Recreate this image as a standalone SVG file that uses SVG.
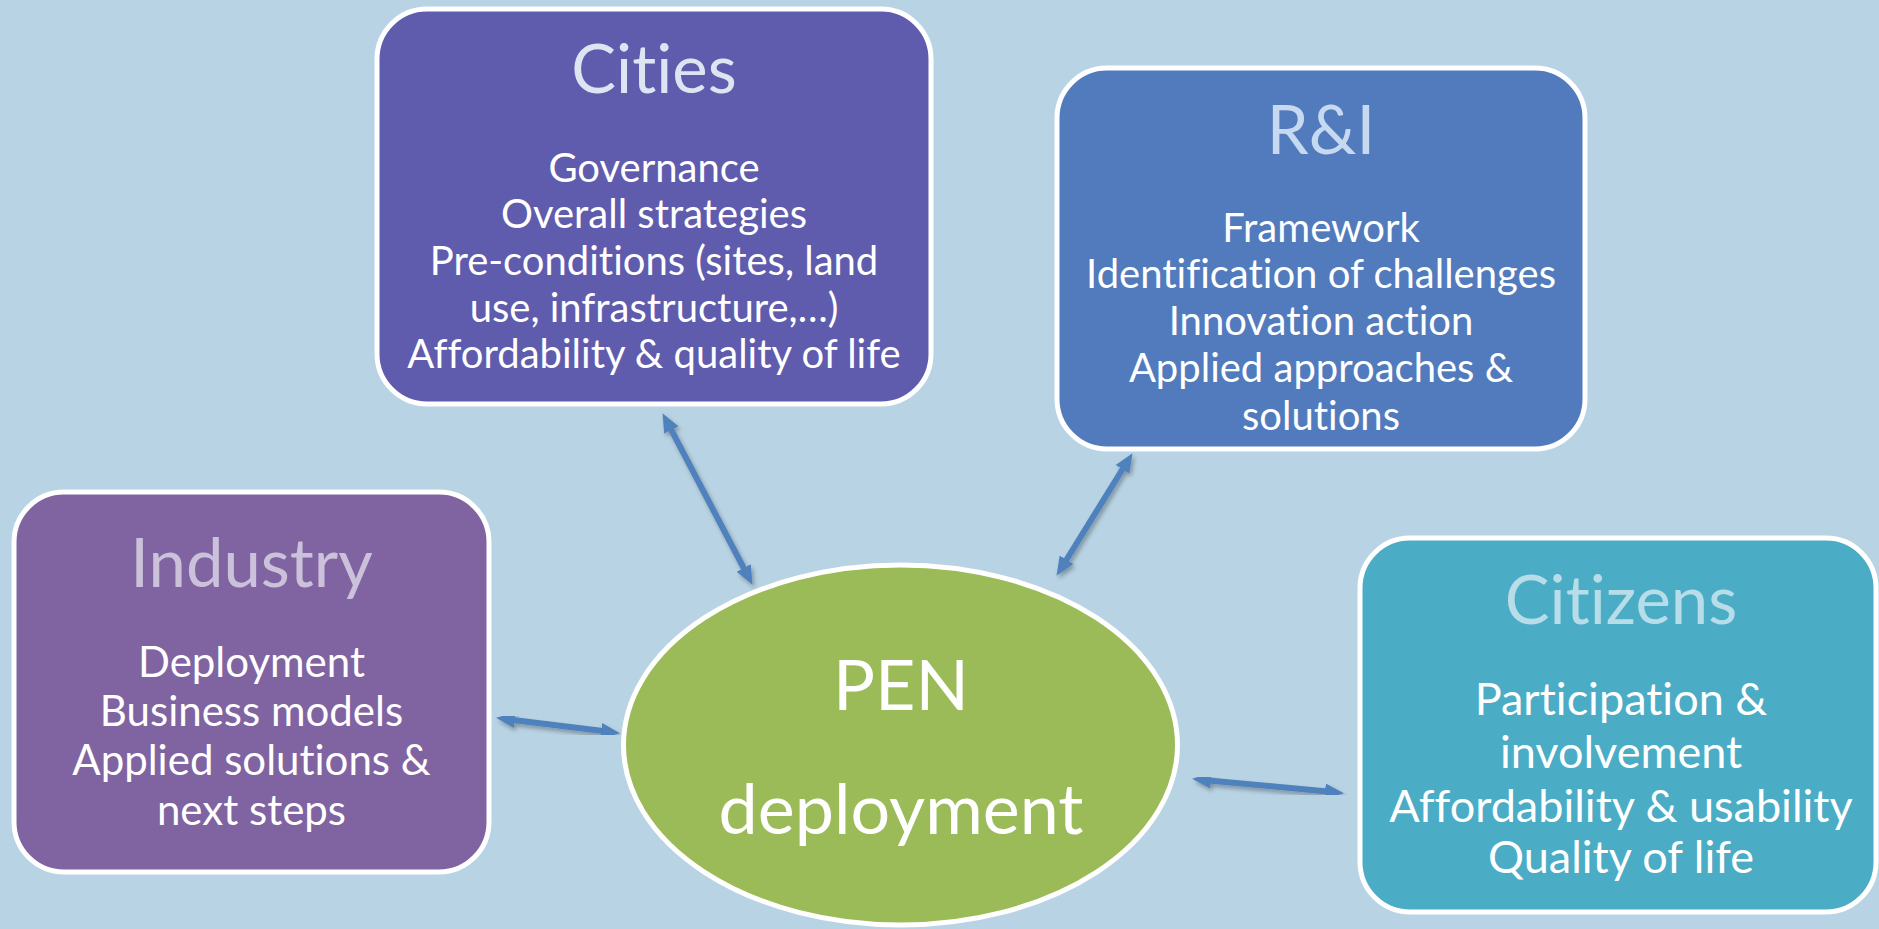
<svg xmlns="http://www.w3.org/2000/svg" width="1879" height="929" viewBox="0 0 1879 929">
<style>
  text { font-family: Lato, "Open Sans", "Liberation Sans", sans-serif; text-anchor: middle; font-variant-ligatures: none; font-feature-settings: "liga" 0; }
  .box { stroke: #ffffff; stroke-width: 5; }
  .title { font-size: 67px; }
  .body { font-size: 40px; fill: #ffffff; }
  .ind { font-size: 42px; fill: #ffffff; }
  .cit { font-size: 45px; fill: #ffffff; }
  .pen { font-size: 70px; fill: #ffffff; }
  .conn { stroke: #4F81BD; stroke-width: 6; fill: none; marker-start: url(#head); marker-end: url(#head); filter: url(#shadow); }
</style>
<defs>
  <marker id="head" viewBox="0 -9 20 18" markerUnits="userSpaceOnUse" markerWidth="20" markerHeight="18" refX="8" refY="0" orient="auto-start-reverse">
    <path d="M0,-8 L19,0 L0,8 z" fill="#4F81BD"/>
  </marker>
  <filter id="shadow" x="-20%" y="-20%" width="140%" height="140%">
    <feDropShadow dx="2" dy="3" stdDeviation="2" flood-color="#000000" flood-opacity="0.3"/>
  </filter>
</defs>
<rect x="0" y="0" width="1879" height="929" fill="#B8D3E4"/>

<g id="connectors">
  <path class="conn" d="M667.6,422.9 L747.4,575.1"/>
  <path class="conn" d="M1126.7,462.5 L1062.3,566.5"/>
  <path class="conn" d="M506.9,719.2 L609.1,731.8"/>
  <path class="conn" d="M1203,779.9 L1333,792.1"/>
</g>

<g id="cities">
  <rect class="box" x="377" y="9" width="554" height="395" rx="50" fill="#5F5CAE"/>
  <text class="title" x="654" y="93" fill="#DCE6F2">Cities</text>
  <text class="body" x="654" y="182">Governance</text>
  <text class="body" x="654" y="228">Overall strategies</text>
  <text class="body" x="654" y="275">Pre-conditions (sites, land</text>
  <text class="body" x="654" y="322">use, infrastructure,…)</text>
  <text class="body" x="654" y="368">Affordability &amp; quality of life</text>
</g>

<g id="ri">
  <rect class="box" x="1057" y="68" width="528" height="381" rx="50" fill="#527BBD"/>
  <text class="title" x="1321" y="154" fill="#C6D9F1">R&amp;I</text>
  <text class="body" x="1321" y="242">Framework</text>
  <text class="body" x="1321" y="288">Identification of challenges</text>
  <text class="body" x="1321" y="335">Innovation action</text>
  <text class="body" x="1321" y="382">Applied approaches &amp;</text>
  <text class="body" x="1321" y="430">solutions</text>
</g>

<g id="industry">
  <rect class="box" x="14" y="492" width="475" height="380" rx="50" fill="#8064A2"/>
  <text class="title" x="251.5" y="587" fill="#CCC1DA">Industry</text>
  <text class="ind" x="251.5" y="677">Deployment</text>
  <text class="ind" x="251.5" y="726">Business models</text>
  <text class="ind" x="251.5" y="775">Applied solutions &amp;</text>
  <text class="ind" x="251.5" y="825">next steps</text>
</g>

<g id="citizens">
  <rect class="box" x="1360" y="538" width="516" height="374" rx="50" fill="#4BACC6"/>
  <text class="title" x="1621" y="624" fill="#B7DEE8">Citizens</text>
  <text class="cit" x="1621" y="715">Participation &amp;</text>
  <text class="cit" x="1621" y="768">involvement</text>
  <text class="cit" x="1621" y="822">Affordability &amp; usability</text>
  <text class="cit" x="1621" y="873">Quality of life</text>
</g>

<g id="pen">
  <ellipse class="box" cx="900.5" cy="745" rx="277" ry="180" fill="#9BBB59"/>
  <text class="pen" x="901" y="710">PEN</text>
  <text class="pen" x="901" y="834">deployment</text>
</g>
</svg>
